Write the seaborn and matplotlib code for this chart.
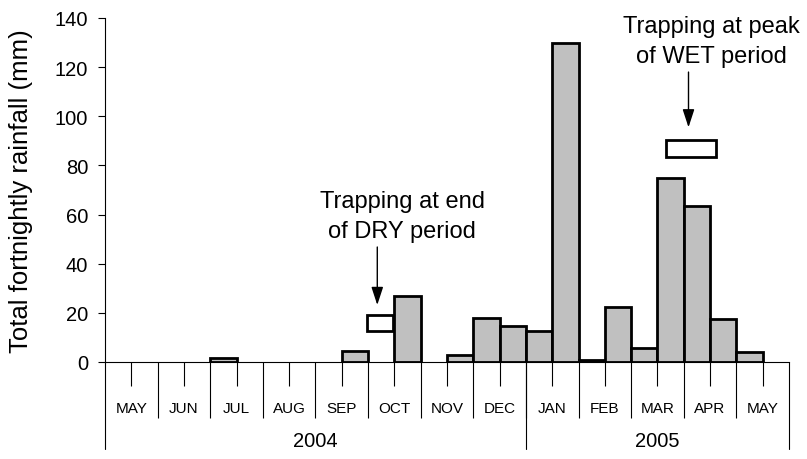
"""Fortnightly rainfall May 2004 - May 2005 with trapping periods."""

import matplotlib.pyplot as plt
import numpy as np
import pandas as pd
import seaborn as sns
from matplotlib.patches import Rectangle

# ── Data ─────────────────────────────────────────────────────────────────────
months = ["MAY", "JUN", "JUL", "AUG", "SEP", "OCT", "NOV",
          "DEC", "JAN", "FEB", "MAR", "APR", "MAY"]
years = ["2004", "2005"]
year_month_counts = [8, 5]  # May-Dec 2004, Jan-May 2005

# total rainfall per fortnight (two per month), mm
rainfall = [0, 0, 0, 0, 1.5, 0, 0, 0, 0, 4.5, 0, 27, 0, 3,
            18, 14.5, 12.5, 130, 1, 22.5, 5.5, 75, 63.5, 17.5, 4, 0]

y_ticks = [0, 20, 40, 60, 80, 100, 120, 140]

# ── Style ────────────────────────────────────────────────────────────────────
sns.set_style("ticks")
plt.rcParams["font.family"] = ["Liberation Sans", "DejaVu Sans"]
plt.rcParams.update({"text.color": "black", "axes.labelcolor": "black",
                     "xtick.color": "black", "ytick.color": "black"})

n_fn = len(rainfall)
df = pd.DataFrame({"fortnight": np.arange(n_fn), "rain": rainfall})
df = df[df["rain"] > 0]

fig = plt.figure(figsize=(8.07, 4.6), dpi=100)
ax = fig.add_axes([105 / 807, 1 - 363 / 460, 684 / 807, 344 / 460])

sns.barplot(
    data=df, x="fortnight", y="rain", order=list(range(n_fn)),
    color="#c0c0c0", saturation=1, edgecolor="black", linewidth=2,
    width=1.0, errorbar=None, ax=ax,
)

ax.set_xlim(-0.5, n_fn - 0.5)
ax.set_ylim(0, 140)
sns.despine(ax=ax)
for side in ("left", "bottom"):
    ax.spines[side].set_linewidth(0.8)
    ax.spines[side].set_color("black")

# y axis
ax.set_yticks(y_ticks)
ax.tick_params(axis="y", direction="out", length=5, width=0.8,
               labelsize=14.5, pad=7)
ax.set_ylabel("Total fortnightly rainfall (mm)", fontsize=18.5)
ax.yaxis.set_label_coords(-0.105, 0.5)

# x axis: month labels at month centres, month separators as minor ticks
month_centres = [2 * i + 0.5 for i in range(len(months))]
month_edges = [2 * i - 0.5 for i in range(1, len(months))]
ax.set_xticks(month_centres)
ax.set_xticklabels(months)
ax.set_xticks(month_edges, minor=True)
ax.set_xlabel("")
ax.tick_params(axis="x", which="major", direction="out", length=17, width=0.8,
               labelsize=11, pad=11)
ax.tick_params(axis="x", which="minor", direction="out", length=40, width=0.8)

# year row
trans = ax.get_xaxis_transform()
start = -0.5
ax.plot([start, start], [0, -0.253], transform=trans, color="black",
        lw=0.8, clip_on=False)
for year, count in zip(years, year_month_counts):
    end = start + 2 * count
    ax.plot([end, end], [0, -0.253], transform=trans, color="black",
            lw=0.8, clip_on=False)
    ax.text((start + end) / 2, -0.229, year, transform=trans,
            ha="center", va="center", fontsize=14.5)
    start = end

# trapping periods
trap_boxes = [(9.47, 12.5, 0.99, 6.75), (20.82, 83.6, 1.9, 6.8)]
for x0, y0, w, h in trap_boxes:
    ax.add_patch(Rectangle((x0, y0), w, h, facecolor="white",
                           edgecolor="black", lw=2, zorder=3))

arrow_kw = dict(arrowstyle="-|>,head_length=0.55,head_width=0.18",
                color="black", lw=1, mutation_scale=20,
                shrinkA=0, shrinkB=0)
ax.annotate("", xy=(9.85, 23.2), xytext=(9.85, 46.8), arrowprops=arrow_kw)
ax.annotate("", xy=(21.68, 95.5), xytext=(21.68, 118.0), arrowprops=arrow_kw)

ax.text(10.79, 50.9, "Trapping at end\nof DRY period", ha="center",
        va="baseline", fontsize=17, linespacing=1.45)
ax.text(22.54, 122.1, "Trapping at peak\nof WET period", ha="center",
        va="baseline", fontsize=17, linespacing=1.45)

fig.savefig("out.png", dpi=100)
